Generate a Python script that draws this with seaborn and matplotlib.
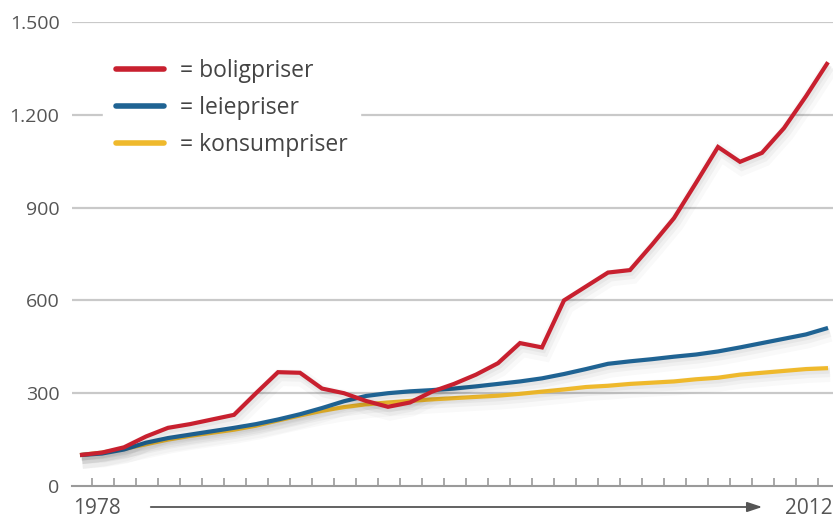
import matplotlib
matplotlib.use("Agg")
import matplotlib.pyplot as plt
import matplotlib.patheffects as pe
import numpy as np
import pandas as pd
import seaborn as sns

# Price indices, 1978 = 100
years = list(range(1978, 2013))
boligpriser = [100, 108, 125, 160, 188, 200, 215, 230, 300, 368, 366, 315, 300,
               275, 256, 270, 305, 330, 360, 397, 462, 448, 600, 645, 690, 698,
               780, 866, 980, 1096, 1048, 1077, 1157, 1260, 1370]
leiepriser = [100, 105, 118, 140, 155, 166, 177, 188, 200, 215, 232, 252, 274,
              291, 300, 306, 310, 315, 322, 330, 338, 348, 362, 378, 395, 403,
              410, 418, 425, 435, 448, 462, 476, 490, 511]
konsumpriser = [100, 108, 120, 135, 150, 162, 172, 182, 195, 212, 228, 243, 255,
                264, 270, 275, 280, 284, 288, 292, 298, 305, 312, 320, 324, 330,
                334, 338, 345, 350, 360, 366, 372, 378, 381]

series_names = ["boligpriser", "leiepriser", "konsumpriser"]
series_colors = ["#c8202f", "#1f6393", "#efb92c"]
y_ticks = [0, 300, 600, 900, 1200, 1500]
y_tick_labels = ["0", "300", "600", "900", "1.200", "1.500"]

df = pd.DataFrame({
    "år": years * 3,
    "indeks": boligpriser + leiepriser + konsumpriser,
    "serie": ["boligpriser"] * len(years) + ["leiepriser"] * len(years)
             + ["konsumpriser"] * len(years),
})

sns.set_theme(style="white")
plt.rcParams["font.family"] = ["Open Sans", "DejaVu Sans"]

W, H = 833, 518
fig = plt.figure(figsize=(W / 100, H / 100), dpi=100)
ax = fig.add_axes([72 / W, (H - 486) / H, (W - 72) / W, (486 - 22) / H])

palette = dict(zip(series_names, series_colors))
draw_order = ["konsumpriser", "leiepriser", "boligpriser"]
sns.lineplot(data=df, x="år", y="indeks", hue="serie", hue_order=draw_order,
             palette=palette, linewidth=3.0, estimator=None, legend=False,
             ax=ax)

# soft drop shadow under each line
shadow = [
    pe.SimpleLineShadow(offset=(1.5, -4), shadow_color="#000000", alpha=0.025, linewidth=12),
    pe.SimpleLineShadow(offset=(1.5, -3), shadow_color="#000000", alpha=0.035, linewidth=7),
    pe.SimpleLineShadow(offset=(1, -2), shadow_color="#000000", alpha=0.04, linewidth=4),
    pe.Normal(),
]
for ln in ax.get_lines():
    ln.set_path_effects(shadow)
    ln.set_solid_capstyle("butt")
    ln.set_solid_joinstyle("miter")
    ln.set_clip_on(False)

ax.set_xlim(1978 - 8 / 22, 2012 + 5 / 22)
ax.set_ylim(0, 1500)

# horizontal grid
for v in y_ticks[1:]:
    ax.axhline(v, color="#c9c9c9", linewidth=1.6, zorder=0)

ax.set_yticks(y_ticks)
ax.set_yticklabels(y_tick_labels)
ax.tick_params(axis="y", length=0, pad=9, labelsize=14, labelcolor="#555555")

ax.set_xticks([])
ax.set_xticks([y + 0.55 for y in years[:-1]], minor=True)
ax.tick_params(axis="x", which="minor", direction="in", length=6, width=1.2,
               color="#9a9a9a", bottom=True)
ax.set_xlabel("")
ax.set_ylabel("")

for s in ["top", "right", "left"]:
    ax.spines[s].set_visible(False)
ax.spines["bottom"].set_color("#9a9a9a")
ax.spines["bottom"].set_linewidth(1.5)

# year range under the axis
fig.text(73 / W, 1 - 509 / H, "1978", fontsize=15, color="#555555",
         ha="left", va="center")
fig.text(833 / W, 1 - 509 / H, "2012", fontsize=15, color="#555555",
         ha="right", va="center")
fig.add_artist(matplotlib.patches.FancyArrowPatch(
    (148 / W, 1 - 507 / H), (765 / W, 1 - 507 / H),
    transform=fig.transFigure, arrowstyle="-|>,head_length=9,head_width=3",
    color="#555555", linewidth=1.3, mutation_scale=1))

# legend
handles = [matplotlib.lines.Line2D([], [], color=palette[n], linewidth=4)
           for n in series_names]
labels = ["= " + n for n in series_names]
leg = ax.legend(handles, labels, loc="upper left",
                bbox_to_anchor=((103 - 72) / (W - 72), (486 - 46) / (486 - 22)),
                borderaxespad=0, frameon=True, fancybox=False, framealpha=1,
                edgecolor="white", facecolor="white", fontsize=16.5,
                handlelength=2.1, handletextpad=0.7, labelspacing=0.58,
                borderpad=0.55)
for t in leg.get_texts():
    t.set_color("#444444")

fig.savefig("out.png", dpi=100, facecolor="white")
